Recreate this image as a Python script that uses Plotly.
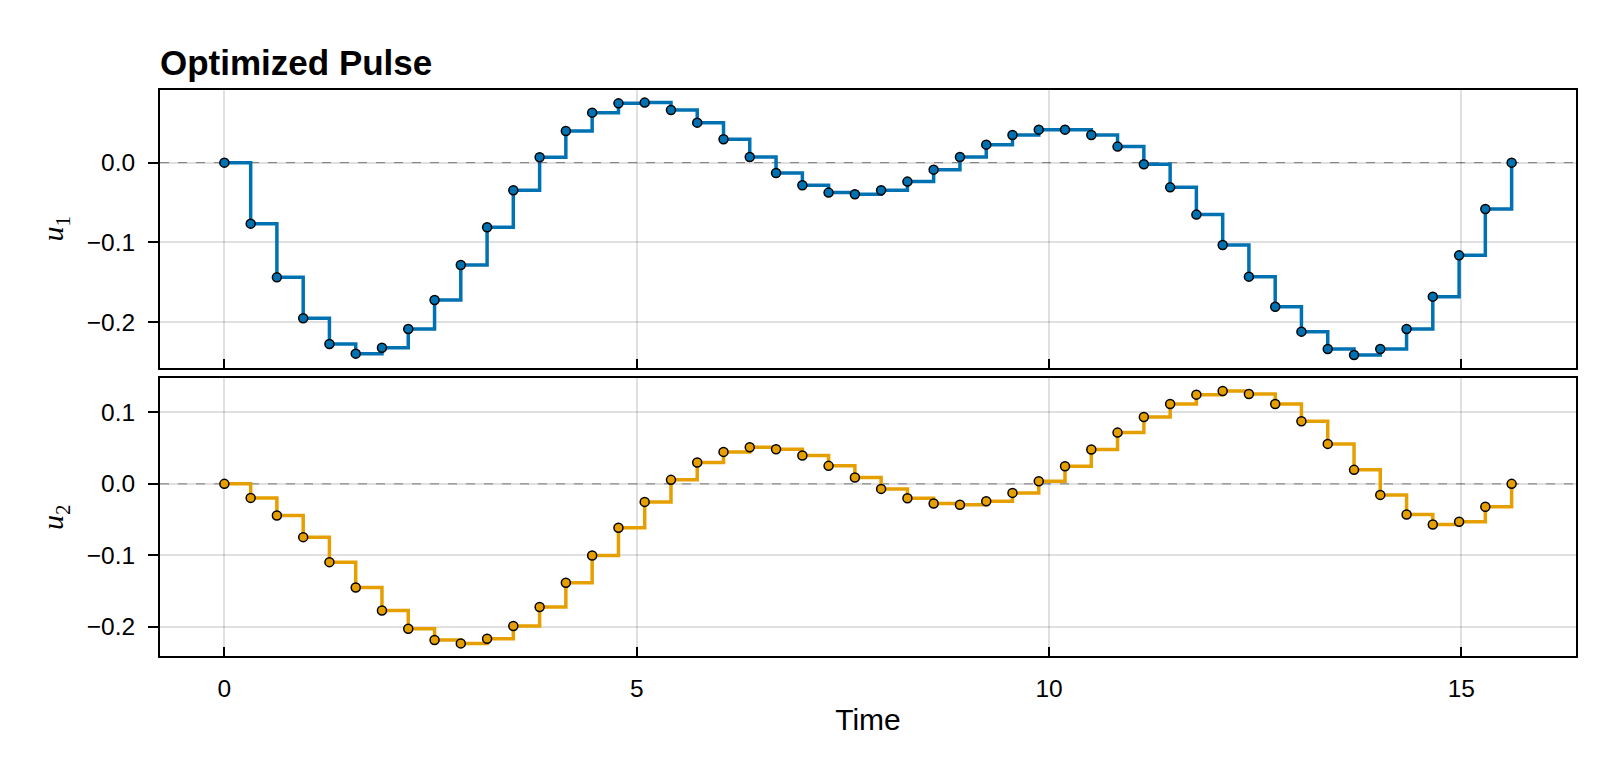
import plotly.graph_objects as go
from plotly.subplots import make_subplots

# time grid (s) and the two optimized control amplitudes
time = [0.000, 0.319, 0.637, 0.956, 1.274, 1.593, 1.911, 2.230, 2.549, 2.867,
        3.186, 3.504, 3.823, 4.141, 4.460, 4.779, 5.097, 5.416, 5.734, 6.053,
        6.371, 6.690, 7.009, 7.327, 7.646, 7.964, 8.283, 8.601, 8.920, 9.239,
        9.557, 9.876, 10.194, 10.513, 10.831, 11.150, 11.469, 11.787, 12.106, 12.424,
        12.743, 13.061, 13.380, 13.699, 14.017, 14.336, 14.654, 14.973, 15.291, 15.610]

u1 = [0.0, -0.0765, -0.1439, -0.1953, -0.2275, -0.2396, -0.2321, -0.2087, -0.1723, -0.1284,
      -0.0811, -0.0347, 0.0067, 0.0397, 0.0627, 0.0744, 0.0753, 0.0661, 0.0502, 0.0293,
      0.0071, -0.0130, -0.0284, -0.0376, -0.0397, -0.0347, -0.0238, -0.0088, 0.0071, 0.0226,
      0.0347, 0.0414, 0.0414, 0.0347, 0.0201, -0.0021, -0.0310, -0.0652, -0.1033, -0.1430,
      -0.1807, -0.2120, -0.2338, -0.2413, -0.2338, -0.2087, -0.1681, -0.1163, -0.0581, 0.0]

u2 = [0.0, -0.0196, -0.0442, -0.0745, -0.1095, -0.1449, -0.1770, -0.2026, -0.2185, -0.2231,
      -0.2166, -0.1989, -0.1723, -0.1383, -0.1001, -0.0615, -0.0252, 0.0056, 0.0298, 0.0447,
      0.0512, 0.0484, 0.0396, 0.0252, 0.0088, -0.0070, -0.0200, -0.0275, -0.0293, -0.0242,
      -0.0126, 0.0037, 0.0247, 0.0480, 0.0717, 0.0936, 0.1118, 0.1248, 0.1299, 0.1258,
      0.1118, 0.0876, 0.0559, 0.0196, -0.0154, -0.0428, -0.0568, -0.0531, -0.0321, 0.0]

x_ticks = [0, 5, 10, 15]
u1_ticks = [-0.2, -0.1, 0.0]
u2_ticks = [-0.2, -0.1, 0.0, 0.1]
reference_level = 0.0

BLUE = "#0072B2"
ORANGE = "#E69F00"
SANS = "Liberation Sans"


def padded(vals, frac=0.05):
    lo, hi = min(vals), max(vals)
    pad = (hi - lo) * frac
    return [lo - pad, hi + pad]


fig = make_subplots(rows=2, cols=1, shared_xaxes=True, vertical_spacing=0.019)

for row, (vals, color) in enumerate([(u1, BLUE), (u2, ORANGE)], start=1):
    fig.add_trace(go.Scatter(
        x=time, y=vals, mode="lines+markers",
        line=dict(color=color, width=3.5, shape="hv"),
        marker=dict(color=color, size=9, line=dict(color="black", width=1.5)),
        showlegend=False,
    ), row=row, col=1)
    fig.add_hline(y=reference_level, line=dict(color="#8a8a8a", width=1, dash="dash"),
                  layer="below", row=row, col=1)

grid = "rgba(0,0,0,0.12)"
xax = dict(range=padded(time), tickvals=x_ticks, showgrid=True, gridcolor=grid, gridwidth=1.5,
           zeroline=False, showline=True, linecolor="black", linewidth=2, mirror=True,
           ticks="inside", ticklen=9, tickwidth=1.5, tickcolor="black",
           tickfont=dict(family=SANS, size=24.5, color="black"), ticklabelstandoff=10)
fig.update_xaxes(**xax)
fig.update_xaxes(showticklabels=False, row=1, col=1)
fig.update_xaxes(title=dict(text="Time", font=dict(family=SANS, size=30, color="black"),
                            standoff=8), row=2, col=1)

yax = dict(showgrid=True, gridcolor=grid, gridwidth=1.5, zeroline=False,
           showline=True, linecolor="black", linewidth=2, mirror=True,
           ticks="outside", ticklen=10, tickwidth=1.5, tickcolor="black",
           tickformat=".1f", tickfont=dict(family=SANS, size=24.5, color="black"),
           ticklabelstandoff=8)
fig.update_yaxes(**yax)
fig.update_yaxes(range=padded(u1), tickvals=u1_ticks, row=1, col=1,
                 title=dict(text="<i>u</i><sub>1</sub>", standoff=14,
                            font=dict(family="Liberation Serif", size=30, color="black")))
fig.update_yaxes(range=padded(u2), tickvals=u2_ticks, row=2, col=1,
                 title=dict(text="<i>u</i><sub>2</sub>", standoff=14,
                            font=dict(family="Liberation Serif", size=30, color="black")))

fig.update_layout(
    width=1600, height=760,
    margin=dict(l=152, r=32, t=82, b=112),
    plot_bgcolor="white", paper_bgcolor="white",
    title=dict(text="<b>Optimized Pulse</b>", font=dict(family=SANS, size=35, color="black"),
               x=0, xref="paper", xanchor="left", y=1 - 55 / 760, yref="container",
               yanchor="middle"),
)

fig.write_html("out.html")
